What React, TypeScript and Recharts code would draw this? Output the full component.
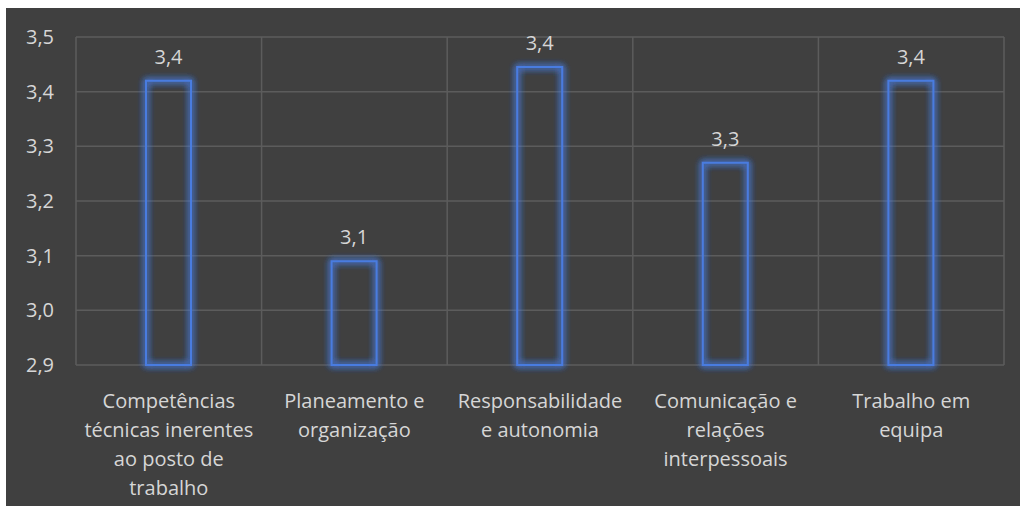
import { BarChart, Bar, XAxis, YAxis, CartesianGrid, LabelList } from 'recharts';

// categories (line breaks follow the wrapping in the reference)
const categories = [
  'Competências\ntécnicas inerentes\nao posto de\ntrabalho',
  'Planeamento e\norganização',
  'Responsabilidade\ne autonomia',
  'Comunicação e\nrelações\ninterpessoais',
  'Trabalho em\nequipa',
];
const scores = [3.42, 3.09, 3.445, 3.27, 3.42];
const yTicks = [2.9, 3.0, 3.1, 3.2, 3.3, 3.4, 3.5];

const data = categories.map((name, i) => ({ name, score: scores[i] }));

const TEXT = '#d6d6d6';
const FONT = '"Open Sans", "Liberation Sans", sans-serif';
const fmt = (v: number) => Number(v).toFixed(1).replace('.', ',');

const CategoryTick = ({ x, y, payload }: any) => {
  const lines = String(payload.value).split('\n');
  return (
    <text x={x} y={y + 35} textAnchor="middle" fill={TEXT} fontSize={20} fontFamily={FONT}>
      {lines.map((l, i) => (
        <tspan key={i} x={x} dy={i === 0 ? 0 : 29}>{l}</tspan>
      ))}
    </text>
  );
};

export default function App() {
  return (
    <div style={{ position: 'absolute', left: 6, top: 8, width: 1014, height: 498, background: '#404040' }}>
      <BarChart width={1014} height={498} data={data} margin={{ top: 29, right: 16, bottom: 0, left: 0 }}>
        <defs>
          <filter id="glow" x="-50%" y="-50%" width="200%" height="200%">
            <feGaussianBlur stdDeviation="3.5" result="blur" />
            <feMerge>
              <feMergeNode in="blur" />
              <feMergeNode in="blur" />
              <feMergeNode in="blur" />
              <feMergeNode in="SourceGraphic" />
            </feMerge>
          </filter>
        </defs>
        <CartesianGrid
          stroke="#5c5c5c"
          strokeWidth={1.5}
          verticalCoordinatesGenerator={({ offset }: any) =>
            categories.map((_, i) => offset.left + (i * offset.width) / categories.length).concat(offset.left + offset.width)
          }
        />
        <XAxis
          dataKey="name"
          height={141}
          axisLine={false}
          tickLine={false}
          interval={0}
          tick={<CategoryTick />}
        />
        <YAxis
          width={70}
          domain={[2.9, 3.5]}
          ticks={yTicks}
          tickFormatter={fmt}
          axisLine={false}
          tickLine={false}
          tickSize={0}
          tickMargin={22}
          tick={{ fill: TEXT, fontSize: 20, fontFamily: FONT }}
        />
        <Bar
          dataKey="score"
          barSize={45}
          fill="#404040"
          fillOpacity={0}
          stroke="#4a7ce0"
          strokeWidth={2}
          filter="url(#glow)"
          isAnimationActive={false}
        >
          <LabelList dataKey="score" position="top" offset={17} formatter={fmt} fill={TEXT} fontSize={20} fontFamily={FONT} />
        </Bar>
      </BarChart>
    </div>
  );
}
